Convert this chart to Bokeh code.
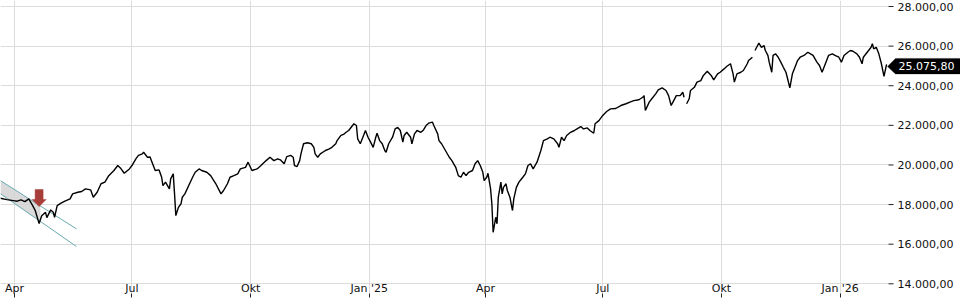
import pandas as pd
from bokeh.plotting import figure
from bokeh.models import Range1d, FixedTicker, Label, PolyAnnotation, BoxAnnotation
from bokeh.embed import file_html
from bokeh.resources import INLINE

NaN = float("nan")

# ---------------- data ----------------
dates = [
    "2024-03-21", "2024-03-26", "2024-03-31", "2024-04-03", "2024-04-06", "2024-04-09", "2024-04-12",
    "2024-04-15", "2024-04-17", "2024-04-20", "2024-04-22", "2024-04-25", "2024-04-26", "2024-04-29",
    "2024-05-01", "2024-05-02", "2024-05-04", "2024-05-07", "2024-05-10", "2024-05-14", "2024-05-16",
    "2024-05-20", "2024-05-23", "2024-05-26", "2024-05-30", "2024-06-01", "2024-06-04", "2024-06-07",
    "2024-06-10", "2024-06-13", "2024-06-17", "2024-06-20", "2024-06-22", "2024-06-25", "2024-06-29",
    "2024-07-01", "2024-07-04", "2024-07-06", "2024-07-09", "2024-07-10", "2024-07-13", "2024-07-15",
    "2024-07-17", "2024-07-19", "2024-07-22", "2024-07-24", "2024-07-25", "2024-07-27", "2024-07-30",
    "2024-07-31", "2024-08-02", "2024-08-03", "2024-08-04", "2024-08-06", "2024-08-08", "2024-08-09",
    "2024-08-11", "2024-08-14", "2024-08-17", "2024-08-19", "2024-08-22", "2024-08-24", "2024-08-28",
    "2024-08-31", "2024-09-04", "2024-09-08", "2024-09-10", "2024-09-13", "2024-09-15", "2024-09-18",
    "2024-09-21", "2024-09-23", "2024-09-27", "2024-09-29", "2024-10-02", "2024-10-06", "2024-10-09",
    "2024-10-13", "2024-10-16", "2024-10-19", "2024-10-22", "2024-10-24", "2024-10-27", "2024-10-29",
    "2024-11-01", "2024-11-03", "2024-11-04", "2024-11-06", "2024-11-08", "2024-11-09", "2024-11-11",
    "2024-11-14", "2024-11-17", "2024-11-19", "2024-11-20", "2024-11-22", "2024-11-24", "2024-11-28",
    "2024-12-01", "2024-12-03", "2024-12-06", "2024-12-07", "2024-12-10", "2024-12-12", "2024-12-14",
    "2024-12-16", "2024-12-19", "2024-12-20", "2024-12-22", "2024-12-23", "2024-12-25", "2024-12-27",
    "2024-12-29", "2024-12-31", "2025-01-02", "2025-01-04", "2025-01-06", "2025-01-07", "2025-01-09",
    "2025-01-11", "2025-01-13", "2025-01-14", "2025-01-16", "2025-01-19", "2025-01-21", "2025-01-23",
    "2025-01-25", "2025-01-27", "2025-01-28", "2025-01-30", "2025-02-02", "2025-02-03", "2025-02-05",
    "2025-02-07", "2025-02-10", "2025-02-12", "2025-02-14", "2025-02-16", "2025-02-19", "2025-02-20",
    "2025-02-23", "2025-02-24", "2025-02-26", "2025-03-01", "2025-03-04", "2025-03-06", "2025-03-09",
    "2025-03-11", "2025-03-13", "2025-03-15", "2025-03-17", "2025-03-19", "2025-03-22", "2025-03-24",
    "2025-03-26", "2025-03-28", "2025-03-30", "2025-03-31", "2025-04-02", "2025-04-03", "2025-04-05",
    "2025-04-06", "2025-04-07", "2025-04-09", "2025-04-10", "2025-04-11", "2025-04-13", "2025-04-14",
    "2025-04-15", "2025-04-17", "2025-04-18", "2025-04-20", "2025-04-22", "2025-04-23", "2025-04-25",
    "2025-04-27", "2025-04-30", "2025-05-02", "2025-05-04", "2025-05-06", "2025-05-08", "2025-05-11",
    "2025-05-14", "2025-05-16", "2025-05-19", "2025-05-21", "2025-05-24", "2025-05-27", "2025-05-28",
    "2025-05-30", "2025-06-01", "2025-06-03", "2025-06-06", "2025-06-09", "2025-06-11", "2025-06-14",
    "2025-06-16", "2025-06-19", "2025-06-21", "2025-06-24", "2025-06-25", "2025-06-28", "2025-07-01",
    "2025-07-04", "2025-07-07", "2025-07-11", "2025-07-15", "2025-07-19", "2025-07-22", "2025-07-25",
    "2025-07-29", "2025-08-01", "2025-08-02", "2025-08-03", "2025-08-06", "2025-08-08", "2025-08-11",
    "2025-08-13", "2025-08-16", "2025-08-19", "2025-08-21", "2025-08-23", "2025-08-25", "2025-08-27",
    "2025-08-30", "2025-09-01", "2025-09-02", "2025-09-03", "2025-09-04", "2025-09-06", "2025-09-07",
    "2025-09-10", "2025-09-12", "2025-09-15", "2025-09-17", "2025-09-20", "2025-09-23", "2025-09-25",
    "2025-09-28", "2025-09-30", "2025-10-03", "2025-10-05", "2025-10-08", "2025-10-10", "2025-10-11",
    "2025-10-13", "2025-10-16", "2025-10-18", "2025-10-21", "2025-10-22", "2025-10-25", "2025-10-26",
    "2025-10-27", "2025-10-29", "2025-10-30", "2025-11-01", "2025-11-03", "2025-11-04", "2025-11-06",
    "2025-11-07", "2025-11-09", "2025-11-10", "2025-11-12", "2025-11-14", "2025-11-16", "2025-11-18",
    "2025-11-20", "2025-11-21", "2025-11-23", "2025-11-25", "2025-11-27", "2025-11-29", "2025-12-01",
    "2025-12-04", "2025-12-07", "2025-12-09", "2025-12-11", "2025-12-14", "2025-12-16", "2025-12-18",
    "2025-12-21", "2025-12-23", "2025-12-26", "2025-12-28", "2025-12-31", "2026-01-02", "2026-01-04",
    "2026-01-07", "2026-01-09", "2026-01-11", "2026-01-14", "2026-01-16", "2026-01-18", "2026-01-19",
    "2026-01-22", "2026-01-25", "2026-01-26", "2026-01-27", "2026-01-29", "2026-01-31", "2026-02-02",
    "2026-02-04", "2026-02-06",
]
values = [
    18320, 18250, 18200, 18170, 18240, 18150, 18290,
    17950, 17700, 17040, 17440, 17610, 17340, 17730,
    17610, 17360, 17950, 18070, 18170, 18290, 18540,
    18620, 18660, 18790, 18740, 18370, 18620, 19050,
    19130, 19460, 19720, 19970, 19850, 19580, 19800,
    19970, 20310, 20480, 20560, 20640, 20390, 20400,
    20060, 19720, 19750, 19380, 18960, 19130, 18790,
    19300, 19550, 18540, 17440, 17860, 18040, 18370,
    18540, 18960, 19380, 19630, 19800, 19720, 19630,
    19460, 19050, 18540, 18710, 19050, 19380, 19460,
    19550, 19800, 19880, 20140, 19720, 19800, 19970,
    20220, 20390, 20220, 20310, 20260, 20060, 20420,
    20480, 20390, 19970, 19920, 20220, 20560, 21070,
    21120, 21070, 20890, 20560, 20390, 20560, 20730,
    20810, 20890, 21070, 21230, 21490, 21540, 21650,
    21740, 21990, 22080, 21990, 21320, 21070, 21400,
    21740, 21400, 21150, 20890, 21400, 21600, 21230,
    21070, 20730, 20640, 21070, 21400, 21820, 21900,
    21740, 21150, 21490, 21650, 21400, 21070, 21570,
    21740, 21650, 21770, 21990, 22110, 22160, 21990,
    21570, 21230, 21070, 20730, 20390, 20220, 19880,
    19460, 19380, 19630, 19460, 19630, 19720, 20060,
    20220, 19970, 19630, 19210, 19380, 19580, 18790,
    18040, 16600, 17360, 17030, 18370, 19130, 18540,
    18870, 19050, 18710, 18370, 17700, 18290, 18870,
    19130, 19380, 19550, 19970, 20060, 19800, 20140,
    20730, 21230, 21320, 21400, 21320, 21070, 20890,
    21400, 21230, 21490, 21650, 21740, 21820, 21940,
    21820, 21870, 21740, 21600, 22080, 22240, 22500,
    22700, 22830, 22850, 23000, 23090, 23170, 23250,
    23290, 23420, 23500, 22750, 23170, 23340, 23590,
    23790, 23890, 23760, 23500, 23000, 23250, 23500,
    23500, 23670, 23420, NaN, 23090, 23340, 23760,
    23920, 24180, 24260, 24520, 24730, 24520, 24300,
    24600, 24680, 24850, 24970, 25110, 24600, 24180,
    24600, 24680, 24770, 25110, 25270, 25440, NaN,
    25780, 26030, 26150, 25940, 26030, 25780, 25530,
    25190, 24680, 25530, 25610, 25440, 25190, 24930,
    24680, 24430, 23890, 24600, 24930, 25270, 25440,
    25530, 25690, 25610, 25530, 25190, 25020, 24680,
    25190, 25530, 25610, 25530, 25440, 25190, 25530,
    25690, 25780, 25740, 25610, 25440, 25110, 25440,
    25690, 25940, 26120, 25860, 25940, 25610, 25110,
    24470, 25075.80,
]
last_value_label = "25.075,80"

# trend channel drawn on the chart
channel_dates = ["2024-03-21", "2024-05-19"]
channel_upper = [19210, 16770]
channel_lower = [18550, 15880]
shade_dates = ["2024-03-21", "2024-04-21"]
shade_upper = [19210, 17930]
shade_lower = [18550, 17140]

# signal arrow (tip position)
signal_date = "2024-04-20"
signal_value = 17900

# axis ticks
x_ticks = ["2024-04-01", "2024-07-01", "2024-10-01", "2025-01-01",
           "2025-04-01", "2025-07-01", "2025-10-01", "2026-01-01"]
x_tick_labels = ["Apr", "Jul", "Okt", "Jan '25", "Apr", "Jul", "Okt", "Jan '26"]
y_ticks = [14000, 16000, 18000, 20000, 22000, 24000, 26000, 28000]
y_tick_labels = ["14.000,00", "16.000,00", "18.000,00", "20.000,00",
                 "22.000,00", "24.000,00", "26.000,00", "28.000,00"]

# ---------------- layout constants ----------------
W, H = 960, 300
PLOT_W = 888            # width of the data area; the price scale sits to its right
SCALE_W = W - PLOT_W
BOTTOM = 7
FRAME_H = H - BOTTOM
FONT = "DejaVu Sans"


def ms(d):
    return pd.Timestamp(d).value / 1e6


x0 = ms("2024-03-21 01:40")
x_edge = ms("2026-02-07 12:00")          # right edge of the data area
sx = (x_edge - x0) / PLOT_W               # ms per pixel
x_full = x0 + W * sx                      # frame covers the price scale too
y0, y1 = 13510, 28303
sy = (y1 - y0) / FRAME_H                  # value per pixel

p = figure(width=W, height=H, x_axis_type="datetime", y_axis_location="right",
           x_range=Range1d(x0, x_full), y_range=Range1d(y0, y1),
           output_backend="svg", toolbar_location=None,
           min_border_left=0, min_border_top=0, min_border_right=0,
           min_border_bottom=BOTTOM)
p.outline_line_color = None
p.background_fill_color = "white"
p.border_fill_color = "white"

# grids
xt = FixedTicker(ticks=[ms(d) for d in x_ticks])
yt = FixedTicker(ticks=y_ticks)
p.xaxis.ticker = xt
p.xgrid.ticker = xt
p.yaxis.ticker = yt
p.ygrid.ticker = yt
for g in (p.xgrid, p.ygrid):
    g.grid_line_color = "#dcdcdc"
    g.grid_line_width = 1
# the price-scale strip is blank (grid lines end at the data area)
p.add_layout(BoxAnnotation(left=x_edge, right=x_full, bottom=y0, top=y1,
                           fill_color="white", fill_alpha=1.0, line_color=None,
                           level="underlay"))

# x axis: labels sit just above the tick marks
xa = p.xaxis[0]
xa.major_label_overrides = {ms(d): lab for d, lab in zip(x_ticks, x_tick_labels)}
xa.axis_line_color = None
xa.major_tick_in = 0
xa.major_tick_out = 4
xa.major_tick_line_color = "#222222"
xa.minor_tick_line_color = None
xa.major_label_standoff = -16
xa.major_label_text_font = FONT
xa.major_label_text_font_size = "11px"
xa.major_label_text_color = "#111111"

# y axis: labels drawn into the price-scale strip
ya = p.yaxis[0]
ya.major_label_overrides = {t: lab for t, lab in zip(y_ticks, y_tick_labels)}
ya.axis_line_color = None
ya.major_tick_in = 0
ya.major_tick_out = 0
ya.major_tick_line_color = None
ya.minor_tick_line_color = None
ya.major_label_standoff = -(SCALE_W - 9)
ya.major_label_text_font = FONT
ya.major_label_text_font_size = "11px"
ya.major_label_text_color = "#111111"
# tick marks of the price scale
p.segment(x0=[x_edge] * len(y_ticks), x1=[x_edge + 5 * sx] * len(y_ticks),
          y0=y_ticks, y1=y_ticks, line_color="#222222", line_width=1)

# channel
sd = pd.to_datetime(shade_dates)
p.varea(x=sd, y1=shade_lower, y2=shade_upper, fill_color="#d4d4d4", fill_alpha=0.85)
cd = pd.to_datetime(channel_dates)
p.line(cd, channel_upper, line_color="#6aa9b3", line_width=1)
p.line(cd, channel_lower, line_color="#6aa9b3", line_width=1)

# price line
p.line(pd.to_datetime(dates), values, line_color="black", line_width=1.4)

# signal arrow (shape in pixels around the tip; dy positive = upwards)
ax, ay = ms(signal_date), signal_value
arrow_px = [(0, 0), (-7, 7), (-4, 7), (-4, 17), (4, 17), (4, 7), (7, 7)]
p.patch([ax + dx * sx for dx, dy in arrow_px], [ay + dy * sy for dx, dy in arrow_px],
        fill_color="#a83e39", line_color="#a83e39", line_width=0.5)

# last value tag on the price scale (dy positive = upwards)
lv = values[-1]
tag_px = [(-1, -2), (7, 6), (SCALE_W, 6), (SCALE_W, -9.5), (7, -9.5)]
p.add_layout(PolyAnnotation(xs=[x_edge + dx * sx for dx, dy in tag_px],
                            ys=[lv + dy * sy for dx, dy in tag_px],
                            fill_color="black", fill_alpha=1.0, line_color="black",
                            level="overlay"))
p.add_layout(Label(x=x_edge, y=lv, x_offset=10, y_offset=-2, text=last_value_label,
                   text_color="white", text_font=FONT, text_font_size="11px",
                   text_baseline="middle", text_align="left", level="overlay"))

open("out.html", "w").write(file_html(p, INLINE))
